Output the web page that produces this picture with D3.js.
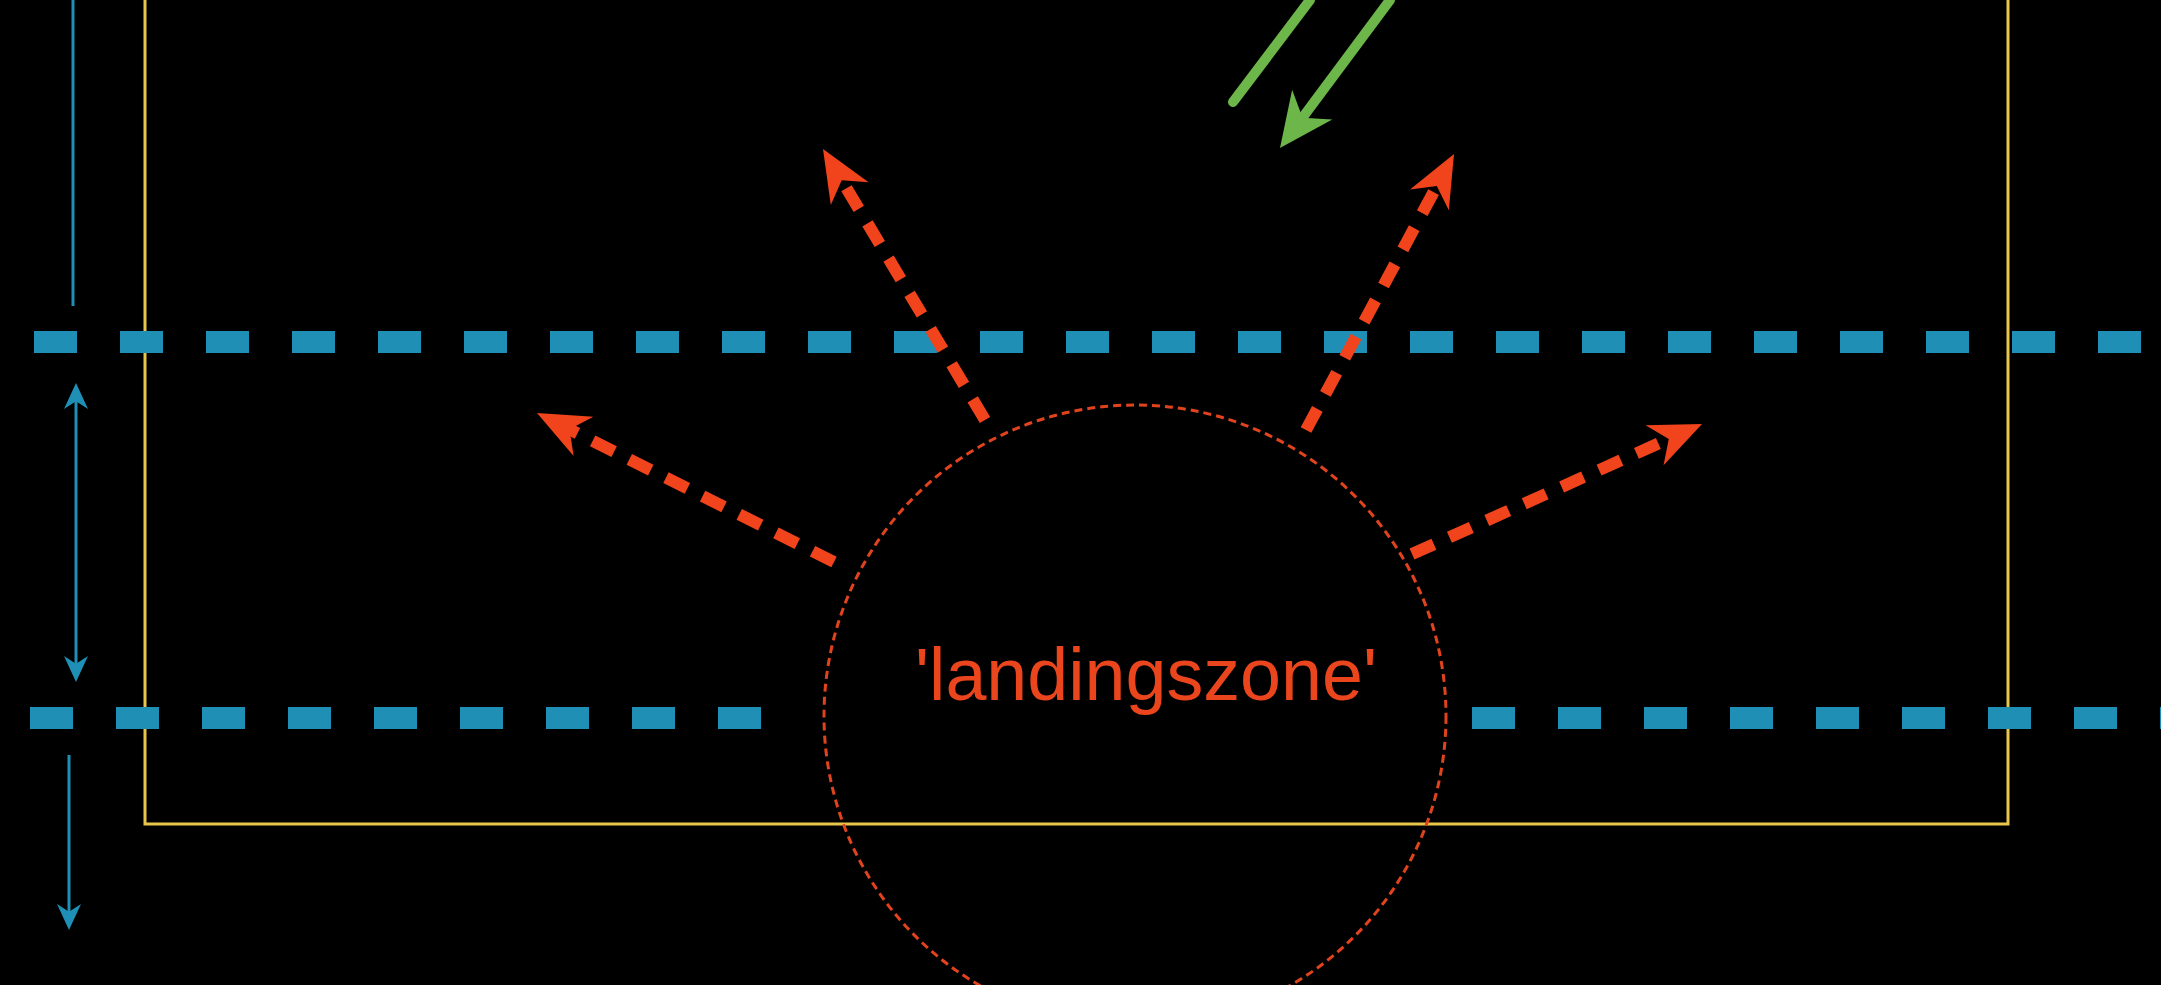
<!DOCTYPE html>
<html>
<head>
<meta charset="utf-8">
<script src="https://cdn.jsdelivr.net/npm/d3@7"></script>
<style>
  html, body { margin: 0; padding: 0; background: #000; overflow: hidden; }
</style>
</head>
<body>
<div id="chart"></div>
<script>
// diagram units: 1 unit = 1 px of the 2161 x 985 sheet
const zoneBox = [145, -20, 2008, 824];              // x0, y0, x1, y1
const corridorLines = [                              // y, [x-from, x-to] segments
  { y: 342, segs: [[34, 2161]] },
  { y: 718, segs: [[30, 769], [1472, 2161]] }
];
const guideLine = [[73, 0], [73, 306]];
const blueArrows = [
  { from: [76, 383], to: [76, 682], both: true },
  { from: [69, 755], to: [69, 930], both: false }
];
const greenLines = [
  { from: [1310, 0], to: [1233, 102], head: false },
  { from: [1390, 0], to: [1280, 148], head: true }
];
const zone = { cx: 1135, cy: 716, r: 311 };
const zoneLabel = "'landingszone'";
const redArrows = [
  { from: [985, 420], to: [823, 149] },
  { from: [1306, 430], to: [1454, 154] },
  { from: [834, 562], to: [537, 413] },
  { from: [1412, 554], to: [1702, 424] }
];

const width = 2161, height = 985;
const x = d3.scaleLinear().domain([0, 2161]).range([0, width]);
const y = d3.scaleLinear().domain([0, 985]).range([0, height]);

const svg = d3.select("#chart")
  .append("svg")
  .attr("width", width)
  .attr("height", height)
  .style("background", "#000");

const defs = svg.append("defs");

// notched arrow head, tip at 0; the line stops `back` units before the tip
function marker(id, color, len, wid, back) {
  defs.append("marker")
    .attr("id", id)
    .attr("markerUnits", "userSpaceOnUse")
    .attr("viewBox", `${-len - 2} ${-wid / 2 - 2} ${len + 4} ${wid + 4}`)
    .attr("refX", -back).attr("refY", 0)
    .attr("markerWidth", len + 4).attr("markerHeight", wid + 4)
    .attr("orient", "auto-start-reverse")
    .append("path")
    .attr("d", `M0,0 L${-len},${-wid / 2} L${-len * 0.7},0 L${-len},${wid / 2} Z`)
    .attr("fill", color);
}
const heads = {
  red:   { id: "redHead",   color: "#f2441c", len: 52, wid: 44, back: 30 },
  blue:  { id: "blueHead",  color: "#1f8fb6", len: 26, wid: 24, back: 14 },
  green: { id: "greenHead", color: "#6cb64a", len: 54, wid: 50, back: 32 }
};
Object.values(heads).forEach(h => marker(h.id, h.color, h.len, h.wid, h.back));

// pull a point back along the segment
function pullBack(a, b, s) {
  const dx = b[0] - a[0], dy = b[1] - a[1];
  const L = Math.hypot(dx, dy);
  return [b[0] - dx / L * s, b[1] - dy / L * s];
}

// yellow frame
svg.append("rect")
  .attr("x", x(zoneBox[0]))
  .attr("y", y(zoneBox[1]))
  .attr("width", x(zoneBox[2]) - x(zoneBox[0]))
  .attr("height", y(zoneBox[3]) - y(zoneBox[1]))
  .attr("fill", "none")
  .attr("stroke", "#e9c649")
  .attr("stroke-width", 3);

// dashed blue corridor lines
corridorLines.forEach(l => {
  svg.selectAll(null)
    .data(l.segs)
    .join("line")
    .attr("x1", d => x(d[0]))
    .attr("x2", d => x(d[1]))
    .attr("y1", y(l.y))
    .attr("y2", y(l.y))
    .attr("stroke", "#1f8fb6")
    .attr("stroke-width", 22)
    .attr("stroke-dasharray", "43 43");
});

// thin blue guide and arrows
svg.append("line")
  .attr("x1", x(guideLine[0][0])).attr("y1", y(guideLine[0][1]))
  .attr("x2", x(guideLine[1][0])).attr("y2", y(guideLine[1][1]))
  .attr("stroke", "#1f8fb6").attr("stroke-width", 3);

svg.selectAll(".blue-arrow")
  .data(blueArrows)
  .join("line")
  .attr("class", "blue-arrow")
  .each(function(d) {
    const b = heads.blue.back;
    const p0 = d.both ? pullBack(d.to, d.from, b) : d.from;
    const p1 = pullBack(d.from, d.to, b);
    d3.select(this)
      .attr("x1", x(p0[0])).attr("y1", y(p0[1]))
      .attr("x2", x(p1[0])).attr("y2", y(p1[1]));
  })
  .attr("stroke", "#1f8fb6").attr("stroke-width", 3)
  .attr("marker-end", "url(#blueHead)")
  .attr("marker-start", d => d.both ? "url(#blueHead)" : null);

// landing zone circle
svg.append("circle")
  .attr("cx", x(zone.cx))
  .attr("cy", y(zone.cy))
  .attr("r", x(zone.r) - x(0))
  .attr("fill", "none")
  .attr("stroke", "#e0431d")
  .attr("stroke-width", 3)
  .attr("stroke-dasharray", "8 5");

svg.append("text")
  .attr("x", x(zone.cx) + 11)
  .attr("y", y(700))
  .attr("text-anchor", "middle")
  .attr("font-family", "Liberation Sans, Arial, sans-serif")
  .attr("font-size", 74)
  .attr("textLength", 462)
  .attr("lengthAdjust", "spacingAndGlyphs")
  .attr("fill", "#ea451c")
  .text(zoneLabel);

// red dashed arrows
svg.selectAll(".red-arrow")
  .data(redArrows)
  .join("line")
  .attr("class", "red-arrow")
  .each(function(d) {
    const p1 = pullBack(d.from, d.to, heads.red.back);
    d3.select(this)
      .attr("x1", x(d.from[0])).attr("y1", y(d.from[1]))
      .attr("x2", x(p1[0])).attr("y2", y(p1[1]));
  })
  .attr("stroke", "#f2441c")
  .attr("stroke-width", 12)
  .attr("stroke-dasharray", "24 17")
  .attr("marker-end", "url(#redHead)");

// green arrows
svg.selectAll(".green-arrow")
  .data(greenLines)
  .join("line")
  .attr("class", "green-arrow")
  .each(function(d) {
    const p1 = d.head ? pullBack(d.from, d.to, heads.green.back) : d.to;
    d3.select(this)
      .attr("x1", x(d.from[0])).attr("y1", y(d.from[1]))
      .attr("x2", x(p1[0])).attr("y2", y(p1[1]));
  })
  .attr("stroke", "#6cb64a")
  .attr("stroke-width", 10)
  .attr("stroke-linecap", "round")
  .attr("marker-end", d => d.head ? "url(#greenHead)" : null);
</script>
</body>
</html>
